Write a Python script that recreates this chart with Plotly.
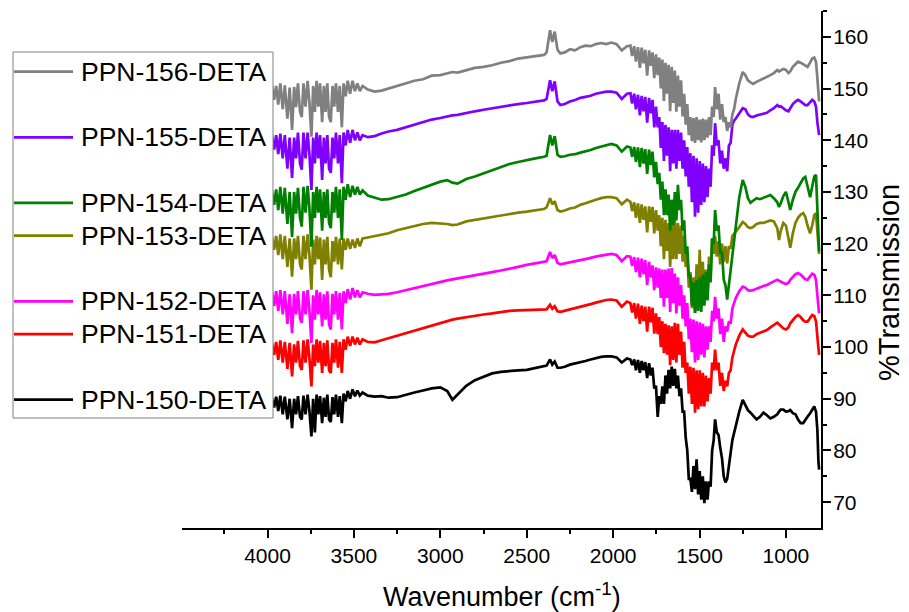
import plotly.graph_objects as go

# ---------------------------------------------------------------------------
# FTIR spectra of the PPN-15x-DETA series (shared wavenumber axis, cm^-1)
# ---------------------------------------------------------------------------
WAVENUMBER = [
    4000, 3990, 3975, 3962, 3950, 3938, 3926, 3912, 3900, 3885, 3872, 3858, 3846, 3835, 3824, 3812,
    3802, 3792, 3780, 3768, 3758, 3746, 3736, 3726, 3716, 3706, 3696, 3684, 3674, 3664, 3654, 3644,
    3634, 3624, 3614, 3604, 3592, 3582, 3570, 3560, 3548, 3536, 3522, 3508, 3494, 3480, 3466, 3450,
    3420, 3380, 3340, 3300, 3250, 3200, 3150, 3100, 3050, 3000, 2960, 2930, 2900, 2850, 2800, 2750,
    2700, 2650, 2600, 2550, 2500, 2450, 2400,
    2385, 2365, 2352, 2338, 2322, 2305,
    2280, 2250, 2220, 2190, 2160, 2130, 2100, 2070, 2040, 2010, 1980, 1950, 1920,
    1900, 1890, 1878, 1868, 1856, 1845, 1835, 1824, 1814, 1803, 1792, 1782, 1772, 1762, 1752, 1742,
    1733, 1724, 1715, 1706, 1697, 1688, 1679, 1670, 1661, 1652, 1643, 1634, 1625, 1616, 1607, 1598,
    1589, 1580, 1571, 1562, 1553, 1544, 1535, 1526, 1517, 1508, 1499, 1490, 1481, 1472, 1463, 1454,
    1445, 1436, 1427, 1418, 1410, 1400, 1390, 1380, 1370, 1360, 1350, 1340, 1330, 1320, 1310, 1300,
    1290, 1270, 1250, 1235, 1220, 1205, 1190, 1170, 1150, 1130, 1110, 1090, 1070, 1050, 1040, 1030,
    1015, 1000, 985, 975, 960, 945, 930, 915, 900, 888, 875, 860, 848, 836, 826, 818, 812, 808,
]

# %Transmission (curves are stacked with vertical offsets)
T_PPN_156 = [
    150.5, 148.5, 150.8, 147.8, 150.5, 146.9, 151.0, 146.0, 150.6, 144.2, 150.2, 142.0, 150.3, 146.4, 151.0, 145.5,
    144.5, 151.0, 146.5, 151.5, 147.5, 140.7, 150.5, 145.5, 151.5, 146.5, 151.0, 143.5, 150.5, 145.5, 151.0, 144.5,
    143.5, 150.5, 146.5, 151.0, 145.5, 150.5, 142.5, 151.0, 148.5, 151.5, 149.0, 151.5, 149.5, 151.0, 149.5, 150.5,
    149.8, 149.4, 149.6, 150.0, 150.5, 150.9, 151.5, 151.8, 152.5, 152.6, 153.0, 153.2, 153.1, 153.6, 154.0, 154.2,
    154.5, 155.0, 155.3, 155.8, 156.0, 156.3, 156.5,
    157.0, 161.3, 159.0, 161.0, 157.5, 156.8,
    157.0, 157.6, 157.4, 158.0, 158.3, 158.2, 158.6, 158.8, 158.6, 158.9, 158.6, 157.4, 158.2,
    158.3, 156.3, 158.2, 155.2, 158.0, 154.0, 157.9, 154.9, 157.5, 152.5, 157.4, 154.4, 157.0, 152.0, 156.6, 152.6,
    156.0, 150.0, 155.6, 147.6, 155.0, 149.0, 154.6, 145.6, 154.2, 147.2, 153.5, 145.5, 152.5, 146.5, 151.6, 144.6,
    149.0, 143.0, 147.0, 141.0, 144.5, 139.8, 144.3, 139.5, 144.5, 140.0, 144.0, 139.6, 144.2, 140.0, 144.0, 140.5,
    144.5, 141.0, 146.5, 144.5, 150.3, 146.0, 149.0, 144.0, 147.0, 143.5, 144.5, 141.8, 143.5, 142.5, 145.0, 146.0,
    148.0, 151.0, 153.2, 152.6, 151.6, 151.2, 150.9, 151.3, 151.6, 151.9, 152.2, 152.6, 153.0, 153.6, 153.3, 153.5,
    153.8, 153.6, 153.0, 153.3, 154.2, 154.7, 155.2, 155.0, 154.7, 154.3, 154.2, 155.0, 155.8, 156.0, 155.2, 152.0, 148.5, 147.5,
]

T_PPN_155 = [
    140.6, 138.8, 141.0, 138.2, 141.0, 137.3, 141.3, 136.5, 141.0, 134.5, 140.5, 132.7, 140.5, 136.5, 141.5, 135.5,
    134.3, 141.5, 136.5, 141.5, 137.5, 130.4, 140.5, 135.5, 141.5, 136.5, 141.0, 132.3, 140.5, 135.5, 141.0, 134.5,
    133.7, 140.5, 136.5, 141.5, 135.5, 141.0, 131.7, 141.5, 139.0, 142.0, 139.5, 142.0, 140.0, 141.5, 140.0, 141.0,
    140.6, 140.8, 141.3, 141.7, 142.0, 142.5, 143.0, 143.6, 144.0, 144.3, 144.6, 144.8, 144.9, 145.3, 145.6, 145.9,
    146.2, 146.5, 146.8, 147.0, 147.2, 147.5, 147.7,
    148.0, 151.6, 149.5, 151.4, 147.5, 146.8,
    147.0, 147.5, 147.8, 148.2, 148.4, 148.6, 149.0, 149.2, 149.4, 149.4, 149.2, 148.0, 149.0,
    149.1, 147.1, 149.0, 146.0, 148.8, 144.8, 148.6, 145.6, 148.4, 143.4, 148.2, 145.2, 147.8, 142.5, 146.5, 142.5,
    144.5, 138.5, 143.5, 136.0, 143.0, 137.0, 142.5, 134.0, 142.0, 135.5, 142.0, 134.5, 142.0, 136.0, 141.5, 134.5,
    140.0, 133.0, 138.7, 131.0, 137.5, 128.0, 137.0, 125.2, 136.5, 126.0, 136.0, 127.5, 135.5, 128.0, 135.0, 129.0,
    134.5, 131.0, 139.0, 137.0, 143.3, 139.0, 140.0, 135.5, 138.0, 134.5, 136.5, 134.0, 139.0, 139.5, 143.0, 143.8,
    144.2, 145.2, 146.2, 146.0, 145.0, 144.6, 144.5, 144.8, 145.0, 145.2, 145.3, 145.8, 146.2, 146.8, 146.5, 146.6,
    146.2, 145.8, 145.6, 146.2, 147.0, 147.5, 147.8, 147.5, 147.0, 146.8, 146.8, 147.3, 147.8, 147.5, 146.5, 143.5, 141.4, 141.0,
]

T_PPN_154 = [
    129.8, 128.0, 130.3, 127.5, 130.5, 126.5, 131.0, 125.8, 130.8, 123.8, 130.0, 121.3, 130.0, 125.8, 130.8, 125.0,
    123.3, 131.0, 126.0, 131.2, 127.0, 119.4, 130.0, 125.0, 131.0, 126.0, 130.5, 122.5, 130.0, 125.0, 130.5, 124.0,
    123.0, 130.0, 126.0, 131.0, 125.0, 130.5, 120.7, 131.0, 128.5, 131.5, 129.0, 131.2, 129.5, 131.0, 129.5, 130.3,
    129.3, 128.9, 128.5, 128.6, 129.0, 129.5, 130.2, 130.8, 131.5, 132.0, 132.3, 131.8, 131.6, 132.5, 133.0, 133.6,
    134.2, 134.8, 135.4, 135.8, 136.2, 136.5, 136.8,
    137.0, 141.0, 139.0, 140.8, 137.2, 136.8,
    136.9, 137.2, 137.3, 137.6, 137.8, 138.1, 138.5, 138.8, 139.1, 139.3, 139.0, 137.8, 138.8,
    138.6, 136.8, 138.7, 135.8, 138.6, 134.8, 138.5, 135.5, 138.3, 133.5, 138.2, 135.2, 137.8, 132.8, 135.8, 131.5,
    133.7, 128.5, 132.0, 125.5, 130.5, 125.5, 129.5, 122.5, 128.5, 123.5, 130.0, 124.5, 131.4, 126.5, 128.5, 122.5,
    124.5, 118.0, 119.5, 113.5, 114.0, 108.0, 112.5, 106.6, 113.0, 107.0, 113.5, 106.8, 114.0, 108.0, 114.5, 109.0,
    116.0, 112.5, 121.0, 120.0, 126.5, 122.5, 123.5, 118.0, 118.5, 113.0, 112.0, 109.2, 112.0, 114.0, 117.0, 119.5,
    123.0, 129.0, 132.3, 131.0, 128.8, 127.9, 128.3, 128.8, 128.6, 128.9, 129.2, 129.4, 128.8, 128.0, 127.1, 127.8,
    129.2, 130.0, 128.0, 126.5, 128.5, 130.0, 130.8, 131.8, 132.6, 132.9, 131.2, 129.0, 131.0, 133.0, 133.3, 128.0, 122.0, 118.5,
]

T_PPN_153 = [
    121.3, 119.5, 121.5, 118.8, 121.5, 117.8, 121.8, 117.0, 121.5, 115.5, 121.0, 113.6, 121.0, 117.0, 121.5, 116.0,
    115.0, 121.5, 117.0, 121.8, 118.0, 111.1, 120.8, 116.0, 121.5, 117.0, 121.2, 113.0, 120.8, 116.0, 121.3, 115.0,
    113.5, 120.5, 116.5, 121.3, 116.0, 121.0, 115.0, 121.0, 118.8, 121.0, 119.0, 120.8, 119.2, 121.0, 119.5, 121.0,
    121.2, 121.5, 121.8, 122.0, 122.6, 123.0, 123.3, 123.8, 124.0, 123.9, 123.8, 123.6, 123.7, 124.3, 124.6, 124.9,
    125.2, 125.5, 125.8, 126.0, 126.2, 126.5, 126.7,
    127.0, 128.8, 127.6, 128.2, 126.5, 126.2,
    126.4, 126.8, 127.0, 127.5, 127.8, 128.2, 128.5, 128.8, 129.0, 129.0, 128.8, 127.6, 128.5,
    128.1, 126.3, 128.0, 125.0, 127.8, 124.0, 127.6, 124.6, 127.2, 122.2, 127.2, 124.2, 127.1, 122.0, 126.5, 122.5,
    125.5, 119.5, 125.0, 117.0, 124.6, 118.6, 124.0, 115.5, 123.5, 117.0, 124.6, 117.0, 124.0, 118.0, 123.5, 116.5,
    121.5, 115.5, 118.2, 111.5, 114.5, 107.5, 113.5, 106.6, 116.0, 108.0, 118.8, 109.0, 116.5, 108.5, 115.0, 109.5,
    117.5, 113.5, 121.0, 118.0, 121.5, 117.5, 120.5, 116.0, 120.0, 116.5, 119.5, 116.2, 119.5, 119.0, 121.5, 122.0,
    122.3, 123.2, 124.2, 123.8, 123.2, 123.0, 123.2, 123.8, 124.0, 124.0, 124.2, 124.5, 124.3, 123.0, 120.7, 122.5,
    124.0, 123.5, 121.0, 119.2, 122.0, 124.0, 125.0, 125.6, 125.9, 125.2, 123.5, 122.0, 123.5, 125.5, 125.9, 123.0, 120.0, 118.0,
]

T_PPN_152 = [
    110.5, 108.8, 110.8, 108.0, 110.8, 107.0, 111.0, 106.3, 110.8, 104.5, 110.2, 102.7, 110.3, 106.3, 110.8, 105.5,
    104.7, 110.8, 106.3, 111.0, 107.3, 100.8, 110.0, 105.3, 111.0, 106.3, 110.6, 104.0, 110.2, 105.3, 110.8, 104.3,
    103.4, 110.3, 106.3, 110.8, 105.3, 110.5, 103.4, 110.8, 108.5, 111.2, 109.2, 111.4, 109.6, 111.0, 109.6, 110.6,
    110.3, 110.1, 110.2, 110.3, 110.6, 111.0, 111.5, 111.8, 112.2, 112.6, 112.9, 113.1, 113.3, 113.6, 113.9, 114.2,
    114.5, 114.8, 115.1, 115.5, 115.9, 116.2, 116.4,
    116.6, 118.4, 117.2, 117.8, 116.3, 116.0,
    116.2, 116.4, 116.6, 116.8, 117.0, 117.3, 117.5, 117.7, 117.9, 118.0, 117.8, 116.6, 117.6,
    117.5, 115.7, 117.4, 114.5, 117.3, 113.5, 117.1, 114.1, 116.8, 112.0, 116.5, 113.5, 115.8, 111.0, 115.4, 111.5,
    115.2, 109.5, 115.0, 107.8, 115.0, 109.5, 115.2, 106.8, 115.3, 108.5, 114.2, 106.5, 113.5, 108.0, 112.0, 105.5,
    110.0, 104.0, 108.5, 101.5, 105.5, 99.0, 105.3, 97.0, 105.0, 97.5, 104.8, 98.5, 104.5, 98.0, 104.0, 99.5,
    104.0, 101.0, 107.0, 105.0, 109.7, 105.5, 107.5, 102.5, 105.5, 101.0, 104.0, 103.0, 105.0, 104.5, 107.5, 108.5,
    109.5, 110.8, 111.7, 111.5, 111.0, 110.9, 111.0, 111.3, 111.6, 111.8, 112.0, 112.4, 112.7, 113.0, 112.8, 112.6,
    112.4, 112.2, 112.4, 113.0, 113.6, 114.1, 114.3, 114.0, 113.5, 113.1, 113.0, 113.6, 114.2, 114.0, 113.0, 110.0, 107.8, 106.5,
]

T_PPN_151 = [
    100.0, 98.8, 100.8, 98.5, 101.0, 97.5, 101.3, 97.0, 101.0, 95.8, 100.8, 94.3, 100.5, 97.0, 101.2, 96.3,
    95.6, 101.3, 97.0, 101.5, 98.0, 92.4, 100.5, 96.3, 101.5, 97.0, 101.2, 95.0, 100.8, 96.3, 101.3, 95.5,
    95.0, 100.8, 97.0, 101.5, 96.0, 101.0, 95.0, 101.5, 99.5, 102.0, 100.2, 102.0, 100.5, 101.8, 100.5, 101.5,
    101.0, 100.9, 101.3, 101.7, 102.1, 102.6, 103.1, 103.6, 104.2, 104.6, 105.0, 105.3, 105.5, 105.8, 106.0, 106.3,
    106.5, 106.8, 107.0, 107.1, 107.2, 107.3, 107.3,
    107.3, 108.2, 107.4, 107.9, 106.9, 106.8,
    107.0, 107.3, 107.5, 107.8, 108.0, 108.3, 108.6, 108.9, 109.1, 109.2, 109.0, 107.8, 108.8,
    108.5, 106.7, 108.5, 105.5, 108.4, 104.5, 108.0, 105.0, 107.8, 103.0, 107.8, 104.8, 107.6, 102.6, 106.5, 102.5,
    105.8, 100.0, 105.0, 98.8, 104.5, 98.5, 104.2, 96.5, 104.0, 97.5, 104.7, 97.0, 104.5, 98.5, 103.0, 96.0,
    101.0, 95.0, 97.0, 91.0, 96.2, 89.0, 96.0, 87.3, 95.5, 88.0, 95.5, 88.5, 95.0, 88.5, 94.5, 89.5,
    94.0, 91.0, 97.0, 95.5, 99.5, 95.5, 97.0, 92.5, 95.0, 91.5, 93.5, 92.4, 95.0, 95.5, 98.0, 99.3,
    100.5, 102.2, 103.4, 102.8, 102.2, 102.0, 102.0, 102.5, 102.8, 103.0, 103.3, 103.8, 104.2, 104.7, 104.4, 104.0,
    103.6, 103.4, 103.8, 104.6, 105.3, 105.8, 106.2, 105.8, 105.2, 104.9, 104.9, 105.6, 106.2, 106.0, 105.0, 102.0, 99.0, 98.5,
]

T_PPN_150 = [
    89.8, 88.6, 90.2, 88.3, 90.4, 87.6, 90.6, 87.0, 90.4, 86.0, 90.0, 84.3, 90.0, 87.0, 90.5, 86.5,
    86.0, 90.6, 87.0, 90.8, 87.8, 82.7, 90.0, 83.5, 90.8, 87.0, 90.5, 85.3, 90.2, 86.5, 90.8, 86.0,
    85.5, 90.3, 87.0, 90.8, 86.5, 90.5, 85.3, 91.0, 89.5, 91.5, 90.0, 91.8, 90.5, 91.6, 90.6, 91.2,
    90.6, 90.4, 90.5, 90.2, 90.3, 90.8, 91.2, 91.6, 92.0, 92.2, 91.5, 89.8, 90.8, 92.5, 93.6, 94.3,
    94.9, 95.2, 95.4, 95.5, 95.6, 95.9, 96.2,
    96.4, 97.6, 96.6, 97.2, 96.0, 96.0,
    96.2, 96.6, 96.8, 97.0, 97.3, 97.6, 97.9, 98.1, 98.2, 98.2, 98.0, 97.0, 97.8,
    97.6, 96.5, 97.6, 95.5, 97.5, 95.0, 97.3, 95.5, 97.1, 94.0, 96.9, 94.5, 96.0, 92.0, 92.5, 86.5,
    90.5, 89.0, 92.4, 89.0, 94.5, 91.0, 95.6, 92.0, 96.2, 92.5, 95.8, 92.0, 94.5, 90.5, 92.0, 87.5,
    87.5, 82.5, 80.0, 74.5, 74.5, 72.0, 77.0, 72.5, 78.3, 71.5, 76.0, 70.5, 75.0, 69.8, 74.0, 70.5,
    74.0, 73.0, 80.0, 82.0, 86.0, 83.5, 83.0, 80.5, 78.5, 75.0, 73.8, 74.5, 77.6, 79.5, 82.0, 83.5,
    85.0, 87.5, 89.8, 88.8, 87.8, 87.3, 86.8, 86.0, 86.5, 87.3, 86.8, 86.2, 86.5, 87.0, 87.5, 87.9,
    87.9, 87.5, 87.6, 87.8, 87.2, 87.0, 86.0, 85.3, 85.3, 85.8, 86.5, 87.2, 88.0, 88.5, 87.5, 84.0, 78.0, 76.3,
]

SAMPLES = ["PPN-150-DETA", "PPN-151-DETA", "PPN-152-DETA", "PPN-153-DETA",
           "PPN-154-DETA", "PPN-155-DETA", "PPN-156-DETA"]
SPECTRA = [T_PPN_150, T_PPN_151, T_PPN_152, T_PPN_153, T_PPN_154, T_PPN_155, T_PPN_156]
COLORS = ["#000000", "#ff0000", "#ff00ff", "#808000", "#008000", "#8000ff", "#808080"]

X_TICKS = [4000, 3500, 3000, 2500, 2000, 1500, 1000]
X_MINOR = [4250, 3750, 3250, 2750, 2250, 1750, 1250]
Y_TICKS = [70, 80, 90, 100, 110, 120, 130, 140, 150, 160]
Y_MINOR = [75, 85, 95, 105, 115, 125, 135, 145, 155, 165]

for s in SPECTRA:
    assert len(s) == len(WAVENUMBER)

# ---------------------------------------------------------------------------
# Page geometry (pixels)
# ---------------------------------------------------------------------------
W, H = 909, 612
PL, PR, PT, PB = 182, 821, 11, 528          # plot-area edges
FONT = "Liberation Sans, Arial, sans-serif"


def paper_x(px):
    return (px - PL) / (PR - PL)


def paper_y(py):
    return (PB - py) / (PB - PT)


fig = go.Figure()
for name, t, c in zip(SAMPLES, SPECTRA, COLORS):
    fig.add_trace(go.Scatter(
        x=WAVENUMBER, y=t, mode="lines", name=name,
        line=dict(color=c, width=2.7), showlegend=False,
    ))

# Boxed legend on the left, newest sample on top, with blank rows between groups
LEGEND_ORDER = SAMPLES[::-1]
LEGEND_COLORS = COLORS[::-1]
LEGEND_SLOTS = [0, 2, 4, 5, 7, 8, 10]
ROW0, ROW_H = 71.7, 32.8
shapes = [dict(type="rect", xref="paper", yref="paper",
               x0=paper_x(13), x1=paper_x(273), y0=paper_y(418), y1=paper_y(52),
               line=dict(color="#808080", width=1), fillcolor="white", layer="above")]
annotations = []
for name, c, slot in zip(LEGEND_ORDER, LEGEND_COLORS, LEGEND_SLOTS):
    yy = paper_y(ROW0 + slot * ROW_H)
    shapes.append(dict(type="line", xref="paper", yref="paper",
                       x0=paper_x(14), x1=paper_x(73), y0=yy, y1=yy,
                       line=dict(color=c, width=2.7), layer="above"))
    annotations.append(dict(text=name, xref="paper", yref="paper", x=paper_x(79), y=yy,
                            xanchor="left", yanchor="middle", showarrow=False,
                            font=dict(family=FONT, size=26.5, color="black")))

# Axis titles
annotations.append(dict(text="Wavenumber (cm<sup>-1</sup>)", xref="paper", yref="paper",
                        x=paper_x(502), y=paper_y(595), xanchor="center", yanchor="middle",
                        showarrow=False, font=dict(family=FONT, size=27, color="black")))
annotations.append(dict(text="%Transmission", xref="paper", yref="paper",
                        x=paper_x(889), y=paper_y(283), xanchor="center", yanchor="middle",
                        textangle=-90, showarrow=False,
                        font=dict(family=FONT, size=29, color="black")))

fig.update_layout(
    width=W, height=H,
    margin=dict(l=PL, r=W - PR, t=PT, b=H - PB, pad=0, autoexpand=False),
    paper_bgcolor="white", plot_bgcolor="white",
    font=dict(family=FONT, color="black"),
    shapes=shapes, annotations=annotations,
    xaxis=dict(
        range=[4495, 797], showgrid=False, zeroline=False, automargin=False,
        showline=True, linecolor="black", linewidth=2, mirror=False,
        tickmode="array", tickvals=X_TICKS, ticktext=[str(v) for v in X_TICKS],
        ticks="outside", ticklen=8, tickwidth=2, tickcolor="black",
        minor=dict(tickmode="array", tickvals=X_MINOR, ticks="outside", ticklen=4,
                   tickwidth=2, tickcolor="black", showgrid=False),
        tickfont=dict(family=FONT, size=21),
    ),
    yaxis=dict(
        range=[65, 165], side="right", showgrid=False, zeroline=False, automargin=False,
        showline=True, linecolor="black", linewidth=2,
        tickmode="array", tickvals=Y_TICKS, ticktext=[str(v) for v in Y_TICKS],
        ticks="outside", ticklen=8, tickwidth=2, tickcolor="black",
        minor=dict(tickmode="array", tickvals=Y_MINOR, ticks="outside", ticklen=4,
                   tickwidth=2, tickcolor="black", showgrid=False),
        tickfont=dict(family=FONT, size=21), ticklabelstandoff=-2,
    ),
)

fig.write_html("out.html")
